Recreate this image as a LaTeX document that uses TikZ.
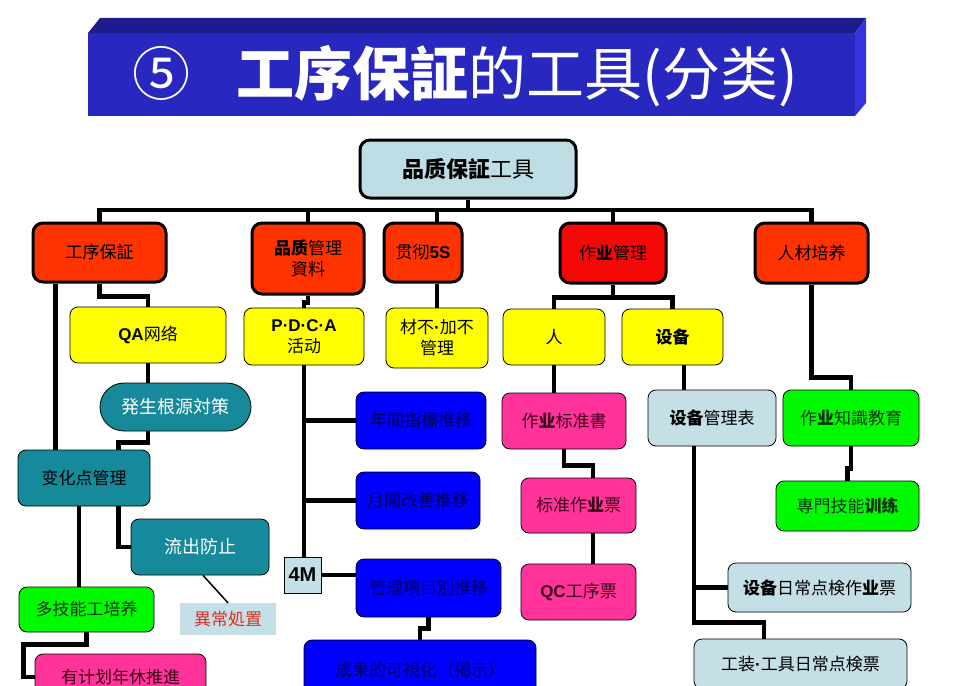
\documentclass[tikz,border=0pt]{standalone}
\usepackage{fontspec}
\setmainfont{Noto Sans CJK SC}
\newfontfamily\lat{Liberation Sans}
\usepackage{xcolor}
\usetikzlibrary{positioning,calc}

\definecolor{bnr}{RGB}{40,40,192}
\definecolor{bnrtop}{RGB}{28,28,140}
\definecolor{bnrside}{RGB}{52,52,222}
\definecolor{rootc}{RGB}{190,221,228}
\definecolor{orng}{RGB}{255,51,0}
\definecolor{redc}{RGB}{245,8,8}
\definecolor{ylwc}{RGB}{255,255,0}
\definecolor{tealc}{RGB}{22,138,154}
\definecolor{grnc}{RGB}{0,250,0}
\definecolor{pnkc}{RGB}{255,51,153}
\definecolor{bluc}{RGB}{0,0,255}
\definecolor{lbluc}{RGB}{196,223,229}
\definecolor{navy}{RGB}{0,0,80}
\definecolor{maroon}{RGB}{60,0,25}
\definecolor{dgrn}{RGB}{10,50,10}
\definecolor{alarm}{RGB}{225,45,30}

\begin{document}
\begin{tikzpicture}[
    x=1pt, y=-1pt,
    font=\fontsize{17}{21}\selectfont,
    box/.style={draw, rounded corners=8pt, align=center, inner sep=0pt,
                line width=0.8pt},
    lvl/.style={box, fill=orng, line width=3pt, rounded corners=10pt},
    ylw/.style={box, fill=ylwc},
    tl/.style={box, fill=tealc},
    grn/.style={box, fill=grnc, text=dgrn},
    pnk/.style={box, fill=pnkc, text=maroon},
    blu/.style={box, fill=bluc, text=navy},
    lb/.style={box, fill=lbluc},
    wire/.style={line width=4.5pt},
  ]

  \useasboundingbox (0,0) rectangle (960,685);
  \clip (0,0) rectangle (960,685);
  \fill[white] (0,0) rectangle (960,685);

  % Title banner
  \fill[bnrtop] (88,33) -- (100,18) -- (866,18) -- (855,33) -- cycle;
  \fill[bnrside] (855,33) -- (866,18) -- (866,103) -- (855,116) -- cycle;
  \fill[bnr] (88,33) rectangle (855,116);
  \node[font=\fontsize{58}{64}\selectfont, text=white] (ttl) at (465,76)
    {⑤\hspace{0.8em}\textbf{工序保証}的工具(分类)};

  % Root
  \node[box, fill=rootc, line width=3pt, rounded corners=10pt,
        minimum width=216, minimum height=58,
        font=\fontsize{22}{26}\selectfont] (root) at (468,169)
    {\textbf{品质保証}工具};

  % First level
  \node[lvl, minimum width=133, minimum height=59] (gx) at (99.5,252.5) {工序保証};
  \node[lvl, minimum width=112, minimum height=71] (pz) at (308,258.5)
    {\textbf{品质}管理\\資料};
  \node[lvl, minimum width=78, minimum height=59] (gc) at (423,252.5)
    {贯彻{\lat\bfseries 5S}};
  \node[lvl, fill=redc, minimum width=106, minimum height=60] (zy) at (613,253)
    {作\textbf{业}管理};
  \node[lvl, minimum width=113, minimum height=60] (rc) at (811.5,253) {人材培养};

  % Second level
  \node[ylw, minimum width=156, minimum height=56] (qa) at (148,335)
    {{\lat\bfseries QA}网络};
  \node[ylw, minimum width=120, minimum height=57] (pd) at (304,336.5)
    {{\lat\bfseries P·D·C·A}\\活动};
  \node[ylw, minimum width=102, minimum height=60] (cb) at (437,338)
    {材不{\lat\bfseries ·}加不\\管理};
  \node[ylw, minimum width=102, minimum height=56] (ren) at (554,337) {人};
  \node[ylw, minimum width=101, minimum height=56] (sb) at (672.5,337)
    {\textbf{设备}};

  % Process column
  \node[tl, rounded corners=24pt, text=white, minimum width=151, minimum height=48,
        font=\fontsize{18}{22}\selectfont] (fs) at (175.5,407) {発生根源対策};
  \node[tl, minimum width=132, minimum height=56] (bh) at (84,478) {变化点管理};
  \node[tl, text=white, minimum width=138, minimum height=56,
        font=\fontsize{18}{22}\selectfont] (lc) at (200,547) {流出防止};
  \node[grn, minimum width=135, minimum height=45] (dj) at (86.5,609.5)
    {多技能工培养};
  \node[fill=lbluc, text=alarm, minimum width=96, minimum height=32,
        inner sep=0pt] (yc) at (228,619) {異常処置};
  \node[pnk, minimum width=171, minimum height=46] (nx) at (120.5,677)
    {有计划年休推進};

  % Quality data column
  \node[blu, minimum width=130, minimum height=57] (b1) at (421,420.5) {年間指標推移};
  \node[blu, minimum width=124, minimum height=57] (b2) at (418,500.5) {月間改善推移};
  \node[draw, fill=lbluc, minimum width=37, minimum height=36, inner sep=0pt,
        font=\lat\bfseries\fontsize{20}{22}\selectfont] (m4) at (302.5,575) {4M};
  \node[blu, minimum width=145, minimum height=58] (b3) at (428.5,588)
    {管理項目別推移};
  \node[blu, minimum width=232, minimum height=60] (b4) at (420,670)
    {成果的可視化（掲示）};

  % Work column
  \node[pnk, minimum width=124, minimum height=56] (bz) at (564,421)
    {作\textbf{业}标准書};
  \node[pnk, minimum width=115, minimum height=55] (pb) at (578.5,505.5)
    {标准作\textbf{业}票};
  \node[pnk, minimum width=115, minimum height=56] (qc) at (578.5,592)
    {{\lat\bfseries QC}工序票};

  % Equipment column
  \node[lb, minimum width=128, minimum height=56] (gl) at (712,418)
    {\textbf{设备}管理表};
  \node[lb, minimum width=183, minimum height=49] (rj) at (819.5,587.5)
    {\textbf{设备}日常点検作\textbf{业}票};
  \node[lb, minimum width=213, minimum height=50] (gz) at (800.5,664)
    {工装{\lat\bfseries ·}工具日常点検票};

  % Training column
  \node[grn, minimum width=136, minimum height=56] (zs) at (851,418)
    {作\textbf{业}知識教育};
  \node[grn, minimum width=143, minimum height=50] (zm) at (847.5,506)
    {専門技能\textbf{训练}};

  % Connectors
  \coordinate (bus) at (468,210);
  \draw[wire] (root.south) -- (bus);
  \draw[wire] (bus) -| (gx.north);
  \draw[wire] (bus) -| (pz.north);
  \draw[wire] (bus) -| ([xshift=14pt]gc.north);
  \draw[wire] (bus) -| (zy.north);
  \draw[wire] (bus) -| (rc.north);

  \draw[wire] (gx.south) -- ++(0,13) -| (qa.north);
  \draw[wire] ([xshift=24pt]gx.south west) -- ([xshift=24pt]gx.south west |- bh.north);
  \draw[wire] (qa.south) -- (qa.south |- fs.north);
  \draw[wire] (qa.south |- fs.south) -- ++(0,11) -| ([xshift=-32pt]bh.north east);
  \draw[wire] ([xshift=-32pt]bh.south east) |- (lc.west);
  \draw[wire] ([xshift=-5pt]bh.south) -- ([xshift=-5pt]bh.south |- dj.north);
  \draw[line width=1.5pt] ([xshift=3pt]lc.south) -- (yc.north);
  \draw[wire] (dj.south) -- ++(0,12) -| ([xshift=-11pt]nx.west) -- (nx.west);

  \draw[wire] (pz.south) -- ++(0,7) -| (pd.north);
  \draw[wire] (pd.south) -- (pd.south |- m4.north);
  \draw[wire] (pd.south |- b1.west) -- (b1.west);
  \draw[wire] (pd.south |- b2.west) -- (b2.west);
  \draw[wire] (m4.east) -- (m4.east -| b3.west);
  \draw[wire] (b3.south) -- ++(0,11) -| (b4.north);

  \draw[wire] ([xshift=14pt]gc.south) -- (cb.north);

  \draw[wire] (zy.south) -- ++(0,13) coordinate (zyb);
  \draw[wire] (zyb) -| (ren.north);
  \draw[wire] (zyb) -| (sb.north);
  \draw[wire] (ren.south) -- (ren.south |- bz.north);
  \draw[wire] (bz.south) -- ++(0,16) -| ([xshift=14.5pt]pb.north);
  \draw[wire] ([xshift=14.5pt]pb.south) -- ([xshift=14.5pt]qc.north);

  \draw[wire] ([xshift=11.5pt]sb.south) -- ([xshift=11.5pt]sb.south |- gl.north);
  \draw[wire] ([xshift=-18pt]gl.south) |- ([xshift=-36.5pt,yshift=16pt]gz.north)
    -- ([xshift=-36.5pt]gz.north);
  \draw[wire] ([xshift=-18pt]gl.south |- rj.west) -- (rj.west);

  \draw[wire] (rc.south) -- ++(0,93) -| (zs.north);
  \draw[wire] (zs.south) -- ++(0,22) -| (zm.north);

\end{tikzpicture}
\end{document}
